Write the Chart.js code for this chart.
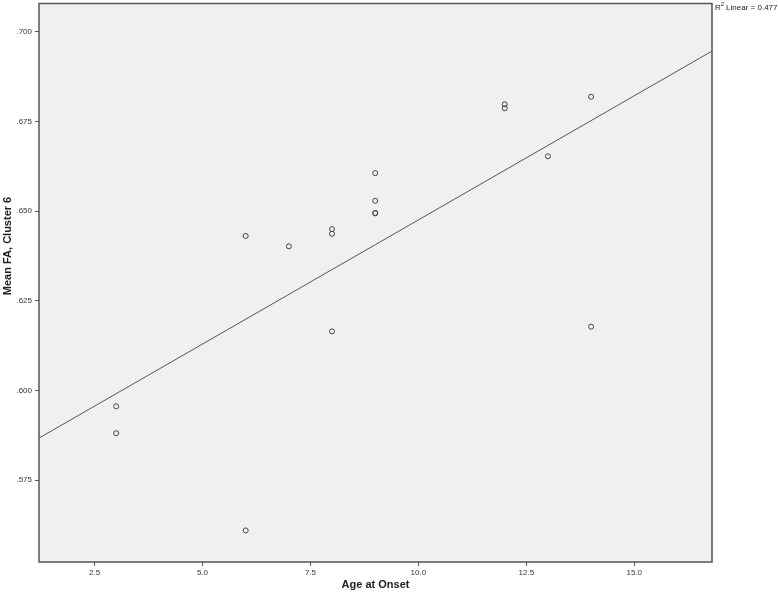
<!DOCTYPE html>
<html>
<head>
<meta charset="utf-8">
<script src="https://cdn.jsdelivr.net/npm/chart.js@4.4.1/dist/chart.umd.min.js"></script>
<style>
    html, body { margin: 0; padding: 0; background: #fff; }
    #wrap { width: 778px; height: 592px; }
</style>
</head>
<body>
<div id="wrap"><canvas id="scatter"></canvas></div>
<script>
// 観測値（Age at Onset / Mean FA, Cluster 6）
const ageAtOnset = [3, 3, 6, 6, 7, 8, 8, 8, 9, 9, 9, 9, 12, 12, 13, 14, 14];
const meanFA = [0.5956, 0.5881, 0.5610, 0.6431, 0.6402, 0.6450, 0.6437, 0.6165,
                0.6606, 0.6529, 0.6494, 0.6495, 0.6798, 0.6787, 0.6653, 0.6819, 0.6178];

// 回帰直線の両端
const fitX = [1.213, 16.8];
const fitY = [0.58675, 0.69464];

const xTicks = [2.5, 5.0, 7.5, 10.0, 12.5, 15.0];
const yTicks = [0.575, 0.600, 0.625, 0.650, 0.675, 0.700];
const r2Label = '0.477';

const pointData = ageAtOnset.map((x, i) => ({ x: x, y: meanFA[i] }));
const lineData = fitX.map((x, i) => ({ x: x, y: fitY[i] }));

const axisColor = '#555';
const fontFamily = '"Liberation Sans", Arial, sans-serif';

// プロット領域の背景と枠、Y軸タイトル、R2ラベル
const framePlugin = {
    id: 'frame',
    beforeDatasetsDraw(chart) {
        const a = chart.chartArea;
        const ctx = chart.ctx;
        ctx.save();
        ctx.fillStyle = '#f0f0f0';
        ctx.fillRect(a.left, a.top, a.right - a.left, a.bottom - a.top);
        ctx.restore();
    },
    afterDraw(chart) {
        const a = chart.chartArea;
        const ctx = chart.ctx;
        ctx.save();
        ctx.strokeStyle = axisColor;
        ctx.lineWidth = 1.5;
        ctx.strokeRect(a.left, a.top, a.right - a.left, a.bottom - a.top);

        ctx.fillStyle = '#222';
        ctx.font = 'bold 11px ' + fontFamily;
        ctx.textAlign = 'center';
        ctx.textBaseline = 'middle';
        ctx.translate(8, 246);
        ctx.rotate(-Math.PI / 2);
        ctx.fillText('Mean FA, Cluster 6', 0, 0);
        ctx.restore();

        ctx.save();
        ctx.fillStyle = '#222';
        ctx.textBaseline = 'alphabetic';
        ctx.textAlign = 'left';
        let x = a.right + 3;
        ctx.font = '8px ' + fontFamily;
        ctx.fillText('R', x, 10);
        x += ctx.measureText('R').width;
        ctx.font = '6px ' + fontFamily;
        ctx.fillText('2', x, 6);
        x += ctx.measureText('2').width + 2;
        ctx.font = '8px ' + fontFamily;
        ctx.fillText('Linear = ' + r2Label, x, 10);
        ctx.restore();
    }
};

new Chart(document.getElementById('scatter'), {
    type: 'scatter',
    data: {
        datasets: [{
            label: 'points',
            data: pointData,
            pointRadius: 2.5,
            pointHoverRadius: 2.5,
            pointBorderWidth: 1,
            pointBorderColor: '#444',
            pointBackgroundColor: 'rgba(0,0,0,0)'
        }, {
            label: 'fit',
            type: 'line',
            data: lineData,
            borderColor: '#555',
            borderWidth: 1,
            pointRadius: 0,
            fill: false
        }]
    },
    options: {
        responsive: true,
        maintainAspectRatio: false,
        animation: false,
        events: [],
        layout: { padding: { top: 2, right: 66, left: 0, bottom: 0 } },
        plugins: {
            legend: { display: false },
            tooltip: { enabled: false }
        },
        scales: {
            x: {
                type: 'linear',
                min: 1.213,
                max: 16.8,
                afterBuildTicks: function(scale) {
                    scale.ticks = xTicks.map(v => ({ value: v }));
                },
                afterFit: function(scale) {
                    scale.height = 30;
                    scale.paddingLeft = 0;
                    scale.paddingRight = 0;
                },
                grid: { drawOnChartArea: false, drawTicks: true, tickLength: 4, color: axisColor, lineWidth: 1 },
                border: { display: false },
                ticks: {
                    color: '#333',
                    padding: 2,
                    maxRotation: 0,
                    font: { size: 8, family: fontFamily },
                    callback: function(value) { return value.toFixed(1); }
                },
                title: {
                    display: true,
                    text: 'Age at Onset',
                    color: '#222',
                    padding: { top: 0, bottom: 0 },
                    font: { size: 11, weight: 'bold', family: fontFamily }
                }
            },
            y: {
                type: 'linear',
                min: 0.5522,
                max: 0.7079,
                afterBuildTicks: function(scale) {
                    scale.ticks = yTicks.map(v => ({ value: v }));
                },
                afterFit: function(scale) {
                    scale.width = 39;
                    scale.paddingTop = 0;
                    scale.paddingBottom = 0;
                },
                grid: { drawOnChartArea: false, drawTicks: true, tickLength: 4, color: axisColor, lineWidth: 1 },
                border: { display: false },
                ticks: {
                    color: '#333',
                    padding: 3,
                    font: { size: 8, family: fontFamily },
                    callback: function(value) { return value.toFixed(3).replace(/^0/, ''); }
                }
            }
        }
    },
    plugins: [framePlugin]
});
</script>
</body>
</html>
